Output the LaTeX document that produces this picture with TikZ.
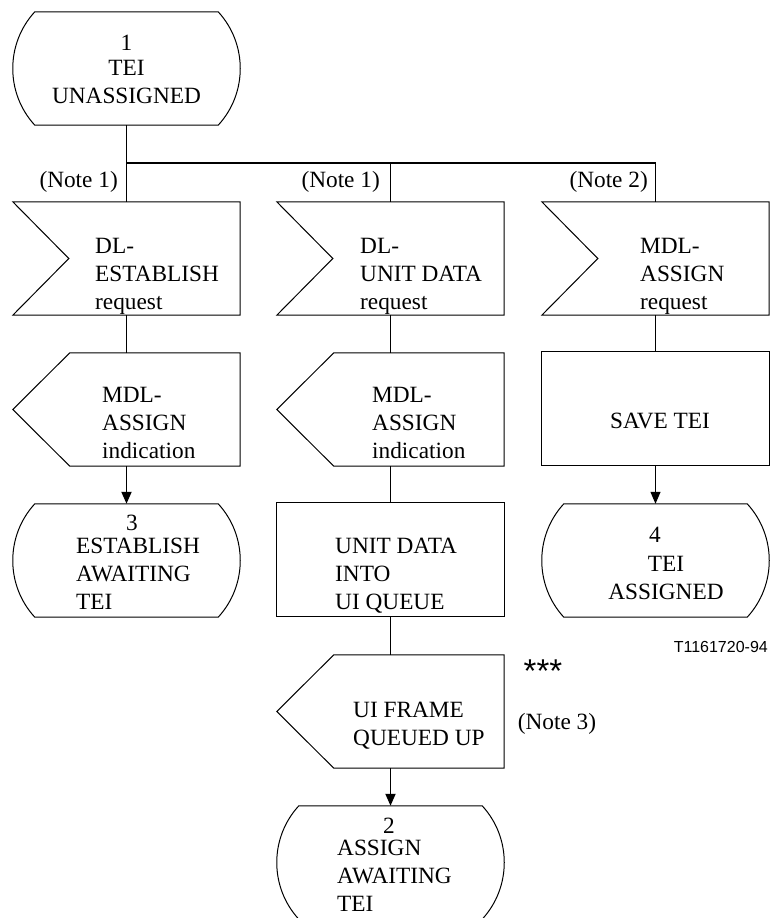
\documentclass[tikz,border=0pt]{standalone}
\usepackage{fontspec}
\setmainfont{Liberation Serif}
\newfontfamily\labelsans{Liberation Sans}
\usetikzlibrary{arrows.meta,calc}
% multi-line text blocks whose baseline is the first line
\newcommand\leftlines[1]{\begin{tabular}[t]{@{}l@{}}#1\end{tabular}}
\newcommand\centerlines[1]{\begin{tabular}[t]{@{}c@{}}#1\end{tabular}}

\begin{document}
\begin{tikzpicture}[x=1pt,y=-1pt,
  outline/.style={draw=black, line width=1pt, line join=miter},
  box/.style={rectangle, inner sep=0pt, minimum width=227pt, minimum height=113pt},
  statebox/.style={rectangle, inner sep=0pt, minimum width=183pt, minimum height=113pt},
  txt/.style={inner sep=0pt, font=\fontsize{23.3}{28}\selectfont},
  link/.style={line width=1.8pt},
  thinlink/.style={line width=1.1pt},
  tip/.style={-{Triangle[length=12pt,width=10pt]}},
]
\useasboundingbox (0,0) rectangle (770,918);

% ---- shapes ----
\node[statebox] (S1) at (126.5,68.5) {};
\node[box] (I1) at (126.5,258.5) {};
\node[box] (I2) at (390.5,258.5) {};
\node[box] (I3) at (655.5,258.5) {};
\node[box] (O1) at (126.5,409.5) {};
\node[box] (O2) at (390.5,409.5) {};
\node[box] (T3) at (655.5,408.5) {};
\node[statebox] (S3) at (126.5,560.5) {};
\node[box] (T2) at (390.5,559.5) {};
\node[statebox] (S4) at (655.5,560.5) {};
\node[box] (O3) at (390.5,711.5) {};
\node[statebox] (S2) at (390.5,862.5) {};

% states: flat top and bottom, bulging sides
\foreach \n in {S1,S2,S3,S4}
  \draw[outline] (\n.north west) -- (\n.north east)
    .. controls +(29.4,32) and +(29.4,-32) .. (\n.south east)
    -- (\n.south west)
    .. controls +(-29.4,-32) and +(-29.4,32) .. (\n.north west) -- cycle;

% input signals: notch on the left
\foreach \n in {I1,I2,I3}
  \draw[outline] (\n.north west) -- (\n.north east) -- (\n.south east)
    -- (\n.south west) -- ($(\n.west)+(56,0)$) -- cycle;

% output signals: point on the left
\foreach \n in {O1,O2,O3}
  \draw[outline] ($(\n.north west)+(57,0)$) -- (\n.north east) -- (\n.south east)
    -- ($(\n.south west)+(57,0)$) -- (\n.west) -- cycle;

% tasks: plain rectangles
\foreach \n in {T2,T3}
  \draw[outline] (\n.north west) rectangle (\n.south east);

% ---- connectors ----
\coordinate (bus) at (0,163);
\draw[link] (S1.south) -- (I1.north);
\draw[thinlink] (S1.south |- bus) -- (I3.north |- bus) -- (I3.north);
\draw[link] (I2.north |- bus) -- (I2.north);
\draw[link] (I1.south) -- (O1.north);
\draw[link,tip] (O1.south) -- (S3.north);
\draw[link] (I2.south) -- (O2.north);
\draw[link] (O2.south) -- (T2.north);
\draw[link] (T2.south) -- (O3.north);
\draw[link,tip] (O3.south) -- (S2.north);
\draw[thinlink] (I3.south) -- (T3.north);
\draw[thinlink,tip] (T3.south) -- (S4.north);

% ---- texts ----
\node[txt, anchor=base] (S1n) at (126.5,50) {1};
\node[txt, anchor=base] (S1t) at (126.5,75) {\centerlines{TEI\\UNASSIGNED}};

\node[txt, anchor=base east] (n1a) at (118,187) {(Note 1)};
\node[txt, anchor=base east] (n1b) at (380,187) {(Note 1)};
\node[txt, anchor=base east] (n2) at (648,187) {(Note 2)};

\node[txt, anchor=base west] (I1t) at (95,253) {\leftlines{DL-\\ESTABLISH\\request}};
\node[txt, anchor=base west] (I2t) at (360,253) {\leftlines{DL-\\UNIT DATA\\request}};
\node[txt, anchor=base west] (I3t) at (640,253) {\leftlines{MDL-\\ASSIGN\\request}};

\node[txt, anchor=base west] (O1t) at (102,402) {\leftlines{MDL-\\ASSIGN\\indication}};
\node[txt, anchor=base west] (O2t) at (372,402) {\leftlines{MDL-\\ASSIGN\\indication}};
\node[txt, anchor=base] (T3t) at (660,428) {SAVE TEI};

\node[txt, anchor=base] (S3n) at (132,530) {3};
\node[txt, anchor=base west] (S3t) at (76,553) {\leftlines{ESTABLISH\\AWAITING\\TEI}};
\node[txt, anchor=base west] (T2t) at (335,553) {\leftlines{UNIT DATA\\INTO\\UI QUEUE}};
\node[txt, anchor=base] (S4n) at (655,542) {4};
\node[txt, anchor=base] (S4t) at (666,571) {\centerlines{TEI\\ASSIGNED}};

\node[inner sep=0pt, anchor=base east, font=\labelsans\fontsize{16}{16}\selectfont] (fig) at (768,652) {T1161720-94};
\node[inner sep=0pt, anchor=base, font=\labelsans\fontsize{33}{33}\selectfont] (stars) at (543,682) {***};
\node[txt, anchor=base] (n3) at (557,729) {(Note 3)};

\node[txt, anchor=base west] (O3t) at (353,717) {\leftlines{UI FRAME\\QUEUED UP}};
\node[txt, anchor=base] (S2n) at (389,833) {2};
\node[txt, anchor=base west] (S2t) at (337,855) {\leftlines{ASSIGN\\AWAITING\\TEI}};
\end{tikzpicture}
\end{document}
